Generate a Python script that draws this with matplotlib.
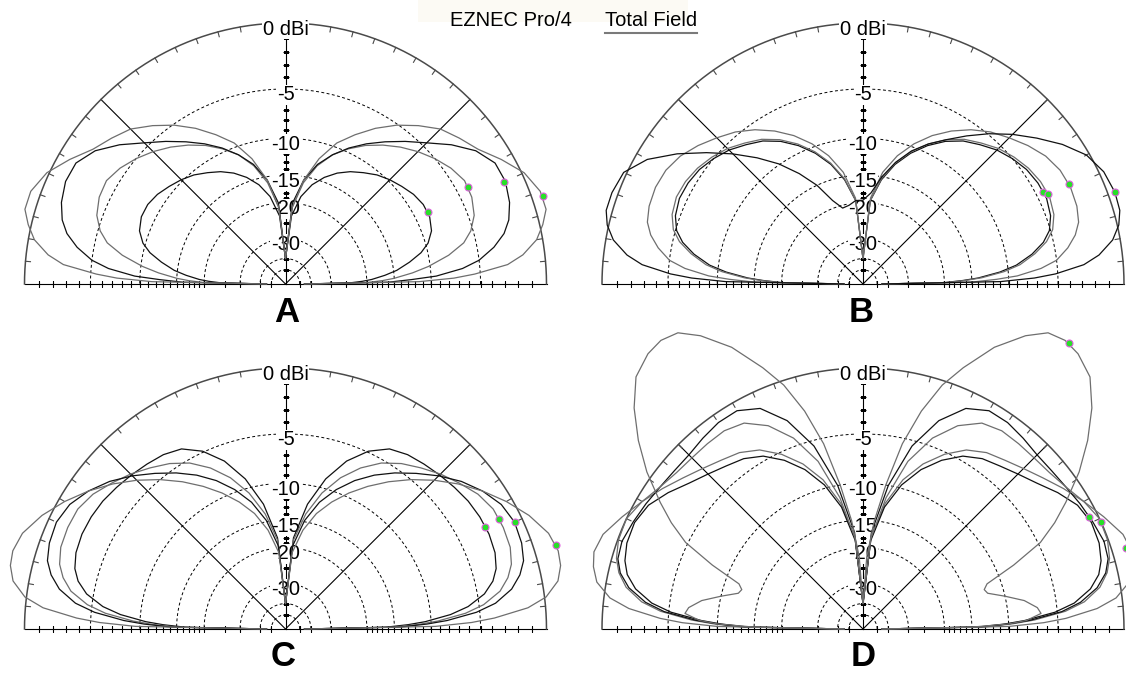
import numpy as np
import matplotlib.pyplot as plt
from matplotlib.lines import Line2D
from matplotlib.patches import Rectangle

plt.rcParams['font.family'] = ['Liberation Sans', 'DejaVu Sans']

W, H = 1126, 673
R = 261          # pixel radius of the 0 dBi circle
RMAX = 1.45      # room for lobes above 0 dBi

# grid of the ARRL log scale
ring_db = [-5, -10, -15, -20, -30, -40, -50]
label_db = [-5, -10, -15, -20, -30]
tick_db = list(range(-1, -21, -1)) + [-25, -30, -40, -50]

# elevation angles (deg) of the samples, horizon -> zenith
ang = [0, 1, 2, 3, 5, 7, 10, 13, 16, 20, 25, 30, 35, 40, 45, 50, 55, 60, 65, 70, 75, 80, 85, 90]

# ---- A : total field, dBi (left half mirrors the right)
a1 = [-45, -24, -21, -19, -16.5, -14.5, -12.5, -10.8, -9.7, -8.9, -8.5, -8.5, -8.8, -9.3, -9.8, -10.4, -11.2, -12, -13, -14.3, -16, -18.5, -23, -40]
a2 = [-45, -20, -17, -15, -12.3, -10.2, -7.8, -6.1, -5.2, -4.5, -4.1, -4.0, -4.4, -5.0, -5.7, -6.5, -7.4, -8.4, -9.6, -11, -13, -16, -21, -40]
a3 = [-45, -16, -12.5, -9.4, -6.6, -5.0, -3.6, -2.6, -2.0, -1.55, -1.25, -1.3, -2.0, -3.2, -4.6, -5.8, -7.0, -8.2, -9.5, -11, -12.8, -15.5, -20, -40]
a4 = [-45, -11.5, -7.5, -5.5, -2.7, -1.5, -0.4, 0.2, 0.65, 0.65, 0.15, -0.8, -1.8, -2.4, -3.0, -4.0, -5.1, -6.4, -7.9, -9.5, -12, -15.5, -21, -40]
a_dots = [(26.8, -8.4), (27.9, -4.0), (25.0, -1.36), (18.9, 0.69)]

# ---- B
b1 = [-45, -20, -16.5, -14, -11, -9, -7.2, -5.9, -5.1, -4.6, -4.35, -4.4, -4.6, -5.0, -5.5, -6.2, -6.9, -7.9, -9.2, -10.8, -12.8, -15.5, -19.5, -40]
b2 = [-45, -19.5, -16, -13.5, -10.5, -8.6, -6.9, -5.6, -4.8, -4.3, -4.07, -4.15, -4.4, -4.8, -5.3, -6.0, -6.7, -7.7, -9.0, -10.6, -12.6, -15.3, -19.5, -40]
b3 = [-45, -15, -11.5, -9, -6.5, -5, -3.9, -3.1, -2.6, -2.35, -2.25, -2.35, -2.7, -3.3, -4.0, -4.7, -5.6, -6.7, -8.0, -9.6, -11.6, -14.3, -19, -40]
b4_right = [-45, -11, -7.2, -5.2, -2.8, -1.6, -0.5, 0.1, 0.4, 0.46, 0.3, -0.2, -1.2, -2.4, -3.6, -4.9, -6.3, -7.7, -9.0, -10.5, -12.5, -15, -18, -19.5]
b4_left = [-45, -11, -7.2, -5.2, -2.8, -1.6, -0.5, 0.1, 0.4, 0.4, 0.2, -0.8, -2.4, -4.2, -6.0, -7.9, -9.9, -12.3, -15, -18.5, -20.6, -20.3, -19.5, -19.5]
b_dots = [(27.0, -4.35), (26.0, -4.07), (26.0, -2.25), (20.0, 0.46)]

# ---- C
c1 = [-45, -16.5, -13, -10.7, -7.8, -6.0, -4.4, -3.5, -3.0, -2.7, -2.58, -2.6, -2.7, -2.9, -3.1, -3.3, -3.5, -3.9, -4.9, -6.5, -8.9, -12.4, -18, -40]
c2 = [-45, -15, -11.5, -9.2, -6.3, -4.6, -3.1, -2.3, -1.8, -1.5, -1.42, -1.45, -1.8, -2.4, -3.0, -3.7, -4.4, -5.3, -6.6, -8.3, -10.6, -13.8, -18.5, -40]
c3 = [-45, -14, -10.5, -8.2, -5.3, -3.6, -2.2, -1.4, -0.9, -0.65, -0.55, -0.8, -1.4, -2.2, -3.2, -4.3, -5.4, -6.6, -8.0, -9.7, -11.8, -14.8, -19.5, -40]
c4 = [-45, -9.5, -5.8, -3.8, -1.2, 0.1, 1.0, 1.35, 1.43, 1.2, 0.5, -0.4, -1.4, -2.5, -3.7, -5.0, -6.4, -7.9, -9.5, -11.3, -13.4, -16.4, -21, -40]
c_dots = [(27.1, -2.58), (27.3, -1.42), (25.0, -0.55), (17.2, 1.43)]

# ---- D
d1 = [-45, -13, -9.5, -7.2, -4.3, -2.7, -1.4, -0.7, -0.3, -0.05, 0.0, -0.4, -1.1, -1.8, -2.4, -2.9, -3.3, -4.0, -5.2, -6.8, -9.0, -12.3, -18, -40]
d2 = [-45, -13.5, -10, -7.6, -4.6, -3.0, -1.6, -0.8, -0.4, -0.3, -0.5, -0.7, -0.9, -1.0, -1.0, -0.8, -0.6, -0.6, -1.2, -2.8, -5.5, -10, -17, -40]
d3 = [-45, -10, -6.3, -4.3, -1.8, -0.4, 0.6, 1.0, 1.2, 1.0, 0.3, -0.4, -0.9, -1.2, -1.3, -1.3, -1.3, -1.6, -2.6, -4.3, -7, -11.5, -18, -40]
d5 = [-45, -14, -10.5, -8.2, -5.2, -3.5, -2.1, -1.3, -0.9, -0.65, -0.6, -0.9, -1.6, -2.4, -3.0, -3.5, -3.9, -4.6, -5.8, -7.4, -9.6, -12.8, -18.5, -40]
ang_big = [0, 1, 2, 3, 5, 7, 10, 13, 16, 18, 20, 23, 26, 29, 32, 36, 40, 44, 48, 52, 55, 58, 61, 65, 69, 72, 75, 78, 81, 84, 87, 90]
d4 = [-45, -15, -10, -8, -6.5, -6.8, -8, -10, -12, -12.3, -11.7, -8, -4.8, -3, -1.5, 0.4, 2, 3.4, 4.5, 5.0, 5.15, 5.0, 4.3, 3, 1.2, -0.3, -2.5, -5.5, -10, -15, -22, -40]
d_dots = [(54.2, 5.15), (26.3, -0.59), (24.1, 0.0), (17.2, 0.9)]

BLACK, GRAY = '#111111', '#6e6e6e'


def arrl(db):
    # ARRL log scale: radius shrinks by 0.89 for every 2 dB
    return 0.89 ** (-np.asarray(db, dtype=float) / 2.0)


def new_panel(cx, cy):
    half = R * RMAX
    ax = fig.add_axes([(cx - half) / W, (H - cy - half) / H, 2 * half / W, 2 * half / H],
                      projection='polar')
    ax.set_ylim(0, RMAX)
    ax.set_axis_off()

    th = np.linspace(0, np.pi, 721)
    ax.plot(th, np.ones_like(th), color='#4a4a4a', lw=1.1, zorder=2)
    for db in ring_db:
        ax.plot(th, np.full_like(th, arrl(db)), color='black', lw=0.7,
                ls=(0, (3, 2.5)), zorder=1)
    for t in (0, 45, 135, 180):
        ax.plot([np.radians(t)] * 2, [0, 1], color='black', lw=0.8, zorder=1)
    ax.plot([np.pi / 2] * 2, [0, 0.96], color='black', lw=0.8, zorder=1)

    for t in range(5, 180, 5):
        ax.plot([np.radians(t)] * 2, [1 - 5 / R, 1], color='#4a4a4a', lw=0.8, zorder=2)
    tr = arrl(tick_db)
    for t in (0, np.pi):
        ax.plot(np.full_like(tr, t), tr, ls='none', marker='|', ms=4.5, mew=0.8,
                color='black', zorder=2)
    ax.plot(np.full_like(tr, np.pi / 2), tr, ls='none', marker='_', ms=5, mew=0.8,
            color='black', zorder=2)

    box = dict(fc='white', ec='none', pad=0.4)
    for db in label_db:
        ax.text(np.pi / 2, arrl(db) - 6 / R, str(db), ha='center', va='center',
                fontsize=14.5, bbox=box, zorder=3)
    ax.text(np.pi / 2, 1 - 6 / R, '0 dBi', ha='center', va='center',
            fontsize=14.5, bbox=box, zorder=3)
    return ax


def curve(ax, angles, right, left=None, color=BLACK):
    if left is None:
        left = right
    a = np.radians(angles)
    th = np.concatenate([a, np.pi - a[::-1]])
    g = np.concatenate([right, left[::-1]])
    ax.plot(th, arrl(g), color=color, lw=0.9, zorder=4)


def dots(ax, pts):
    a = np.radians([p[0] for p in pts])
    g = [p[1] for p in pts]
    ax.plot(a, arrl(g), ls='none', marker='o', ms=5, mfc='#28e028', mec='#e060e0',
            mew=0.8, zorder=5)


fig = plt.figure(figsize=(W / 100, H / 100), dpi=100)
fig.add_artist(Rectangle((418 / W, 1 - 22 / H), 270 / W, 22 / H, transform=fig.transFigure,
                         fc='#fcfaf4', ec='none', zorder=0))
fig.text(450 / W, 1 - 20 / H, 'EZNEC Pro/4', fontsize=14.5, va='center', ha='left')
fig.text(605 / W, 1 - 20 / H, 'Total Field', fontsize=14.5, va='center', ha='left')
fig.add_artist(Line2D([605 / W, 697 / W], [1 - 33 / H] * 2, color='#7a7a7a', lw=1.5))

axA = new_panel(285.5, 284)
for g, c in ((a1, BLACK), (a2, GRAY), (a3, BLACK), (a4, GRAY)):
    curve(axA, ang, g, color=c)
dots(axA, a_dots)

axB = new_panel(863, 284)
for g, c in ((b1, BLACK), (b2, GRAY), (b3, GRAY)):
    curve(axB, ang, g, color=c)
curve(axB, ang, b4_right, b4_left, color=BLACK)
dots(axB, b_dots)

axC = new_panel(285.5, 629)
for g, c in ((c1, BLACK), (c2, GRAY), (c3, BLACK), (c4, GRAY)):
    curve(axC, ang, g, color=c)
dots(axC, c_dots)

axD = new_panel(863, 629)
for g, c in ((d1, GRAY), (d5, BLACK), (d2, BLACK), (d3, GRAY)):
    curve(axD, ang, g, color=c)
curve(axD, ang_big, d4, color=GRAY)
dots(axD, d_dots)

for x, y, s in ((287, 312, 'A'), (861, 312, 'B'), (283, 656, 'C'), (863, 657, 'D')):
    fig.text(x / W, 1 - y / H, s, fontsize=25, fontweight='bold', ha='center', va='center')

fig.savefig('out.png', dpi=100)
